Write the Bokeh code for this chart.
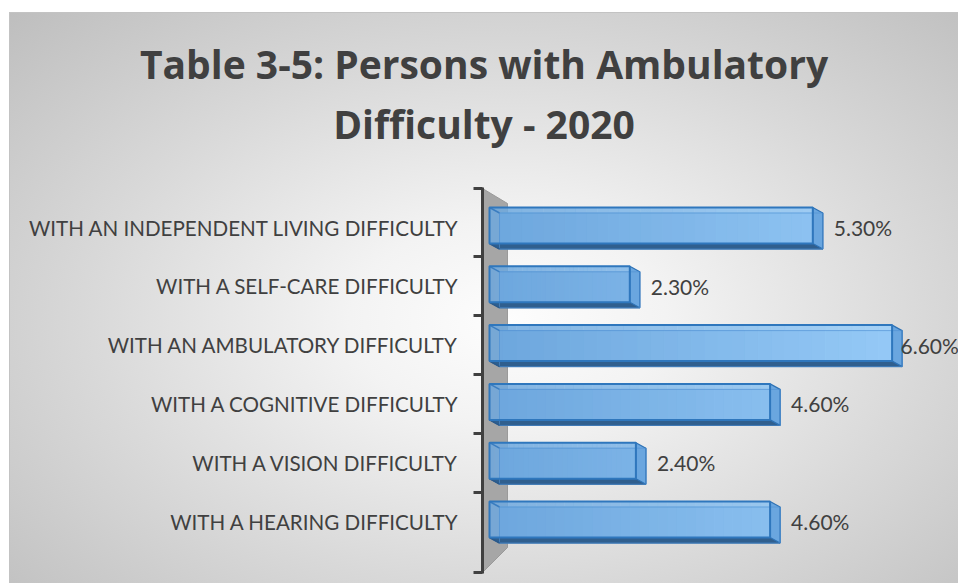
import numpy as np
from bokeh.plotting import figure
from bokeh.models import FixedTicker
from bokeh.core.properties import value
from bokeh.embed import file_html
from bokeh.resources import INLINE

# ---- data ----
categories = [
    "WITH AN INDEPENDENT LIVING DIFFICULTY",
    "WITH A SELF-CARE DIFFICULTY",
    "WITH AN AMBULATORY DIFFICULTY",
    "WITH A COGNITIVE DIFFICULTY",
    "WITH A VISION DIFFICULTY",
    "WITH A HEARING DIFFICULTY",
]
percent = [5.3, 2.3, 6.6, 4.6, 2.4, 4.6]
title_lines = ["Table 3-5: Persons with Ambulatory", "Difficulty - 2020"]

# ---- geometry (pixel scale helpers) ----
W, H = 958, 583
PX_X = 61.0   # px per percent
PX_Y = 58.8   # px per category
X0 = 489      # canvas px of 0 %
YC = 521      # canvas px of bottom category centre
AX, AT, AB = 481.5, 187, 573   # axis x, axis top / bottom (canvas px)

def dx(px):
    return px / PX_X

def dy(px):
    return px / PX_Y

x_start, x_end = dx(0 - X0), dx(W - X0)
y_start, y_end = dy(YC - H), dy(YC - 0)
ax_lo, ax_hi = dy(YC - AB), dy(YC - AT)

bg = ("linear-gradient(#ffffff,#ffffff) 0 0 / 100% 12px no-repeat, "
      "linear-gradient(#ffffff,#ffffff) 0 0 / 9px 100% no-repeat, "
      "linear-gradient(#c3c3c3,#c3c3c3) 9px 12px / 100% 1px no-repeat, "
      "linear-gradient(#c3c3c3,#c3c3c3) 9px 12px / 1px 100% no-repeat, "
      "radial-gradient(ellipse farthest-corner at 53% 55%, #fdfdfd 0%, #f3f3f3 22%, #d9d9d9 58%, #bcbcbc 100%)")

p = figure(width=W, height=H, x_range=(x_start, x_end), y_range=(y_start, y_end),
           output_backend="svg", toolbar_location=None, title=None, min_border=0,
           background_fill_color=None, border_fill_color=None, outline_line_color=None,
           styles={"background": bg})
p.xgrid.visible = False
p.ygrid.visible = False
p.xaxis.visible = False

n = len(categories)
ypos = [n - 1 - i for i in range(n)]

# ---- side wall ----
wall_x = [dx(482 - X0), dx(507 - X0), dx(507 - X0), dx(482 - X0)]
wall_y = [dy(YC - 188), dy(YC - 203), dy(YC - 547), dy(YC - 572)]
p.patch(wall_x, wall_y, fill_color="#a6a6a6", line_color="#9a9a9a", line_width=1)

# ---- 3D bars ----
DX = dx(10)
DY = dy(5.5)
TOP = dy(20)
BOT = dy(16)

back_xs, back_ys, bot_xs, bot_ys, side_xs, side_ys = [], [], [], [], [], []
for v, c in zip(percent, ypos):
    t, b = c + TOP, c - BOT
    back_xs.append([DX, v + DX, v + DX, DX])
    back_ys.append([t - DY, t - DY, b - DY, b - DY])
    bot_xs.append([0, v, v + DX, DX])
    bot_ys.append([b, b, b - DY, b - DY])
    side_xs.append([v, v + DX, v + DX, v])
    side_ys.append([t, t - DY, b - DY, b])

p.patches(back_xs, back_ys, fill_color="#6aa4dc", line_color="#5b98d4", line_width=1)
p.patches(bot_xs, bot_ys, fill_color="#305f8e", line_color="#2d5f92", line_width=1)
p.patches(side_xs, side_ys, fill_color="#6aa6df", line_color="#2e72b5", line_width=1.2)

# front face: horizontal gradient built from slices of each bar
c_left = np.array([0x6d, 0xa7, 0xdd]) / 255
c_right = np.array([0x9c, 0xd0, 0xfa]) / 255
NS = 30
sl_l, sl_r, sl_t, sl_b, sl_c = [], [], [], [], []
for v, c in zip(percent, ypos):
    edges = np.linspace(0, v, NS + 1)
    for a, bnd in zip(edges[:-1], edges[1:]):
        f = min(1.0, ((a + bnd) / 2) / 6.6)
        col = c_left * (1 - f) + c_right * f
        sl_l.append(a)
        sl_r.append(bnd + 0.005)
        sl_t.append(c + TOP)
        sl_b.append(c - BOT)
        sl_c.append("#%02x%02x%02x" % tuple(int(round(255 * q)) for q in col))
p.quad(left=sl_l, right=sl_r, top=sl_t, bottom=sl_b, fill_color=sl_c, fill_alpha=0.85, line_color=None)

# inner edges of the box seen through the translucent face
p.quad(left=[DX] * n, right=[v + DX for v in percent], top=[c + TOP - DY for c in ypos],
       bottom=[c - BOT - DY for c in ypos], fill_color=None, line_color="#4f90d2", line_width=1, line_alpha=0.6)
p.segment(x0=[0] * n, y0=[c + TOP for c in ypos], x1=[DX] * n, y1=[c + TOP - DY for c in ypos],
          line_color="#3b7dc0", line_width=1.5)
p.segment(x0=[0] * n, y0=[c - BOT for c in ypos], x1=[DX] * n, y1=[c - BOT - DY for c in ypos],
          line_color="#2a5a8c", line_width=1.5)
# front face outline
p.quad(left=[0] * n, right=percent, top=[c + TOP for c in ypos], bottom=[c - BOT for c in ypos],
       fill_color=None, line_color="#2f77bd", line_width=2)

# ---- data labels ----
lab_w = dx(58)
label_x = [min(v + dx(21), x_end - lab_w) for v in percent]
p.text(x=label_x, y=ypos, text=[f"{v:.2f}%" for v in percent],
       text_font=value("Lato"), text_font_size="21px", text_color="#404040",
       text_align="left", text_baseline="middle")

# ---- y axis (category axis standing at the left end of the bars) ----
minor = [ax_lo + 0.01] + [k + 0.5 for k in range(n - 1)] + [ax_hi - 0.01]
yax = p.yaxis[0]
yax.fixed_location = dx(AX - X0)
yax.bounds = (ax_lo, ax_hi)
yax.ticker = FixedTicker(ticks=ypos, minor_ticks=minor)
yax.major_label_overrides = {c: lab for c, lab in zip(ypos, categories)}
yax.major_tick_out = 0
yax.major_tick_in = 0
yax.minor_tick_in = 0
yax.minor_tick_out = 9
yax.minor_tick_line_width = 3
yax.minor_tick_line_color = "#404040"
yax.axis_line_width = 3
yax.axis_line_color = "#404040"
yax.major_label_standoff = 14
yax.major_label_text_font = "Lato"
yax.major_label_text_font_size = "20.6px"
yax.major_label_text_color = "#404040"

# ---- title (two centred lines) ----
p.text(x=[dx(483.5 - X0)] * 2, y=[dy(YC - 63), dy(YC - 123)], text=title_lines,
       text_font=value("Open Sans"), text_font_style="bold", text_font_size="39px",
       text_color="#404040", text_align="center", text_baseline="alphabetic")

open("out.html", "w").write(file_html(p, INLINE))
